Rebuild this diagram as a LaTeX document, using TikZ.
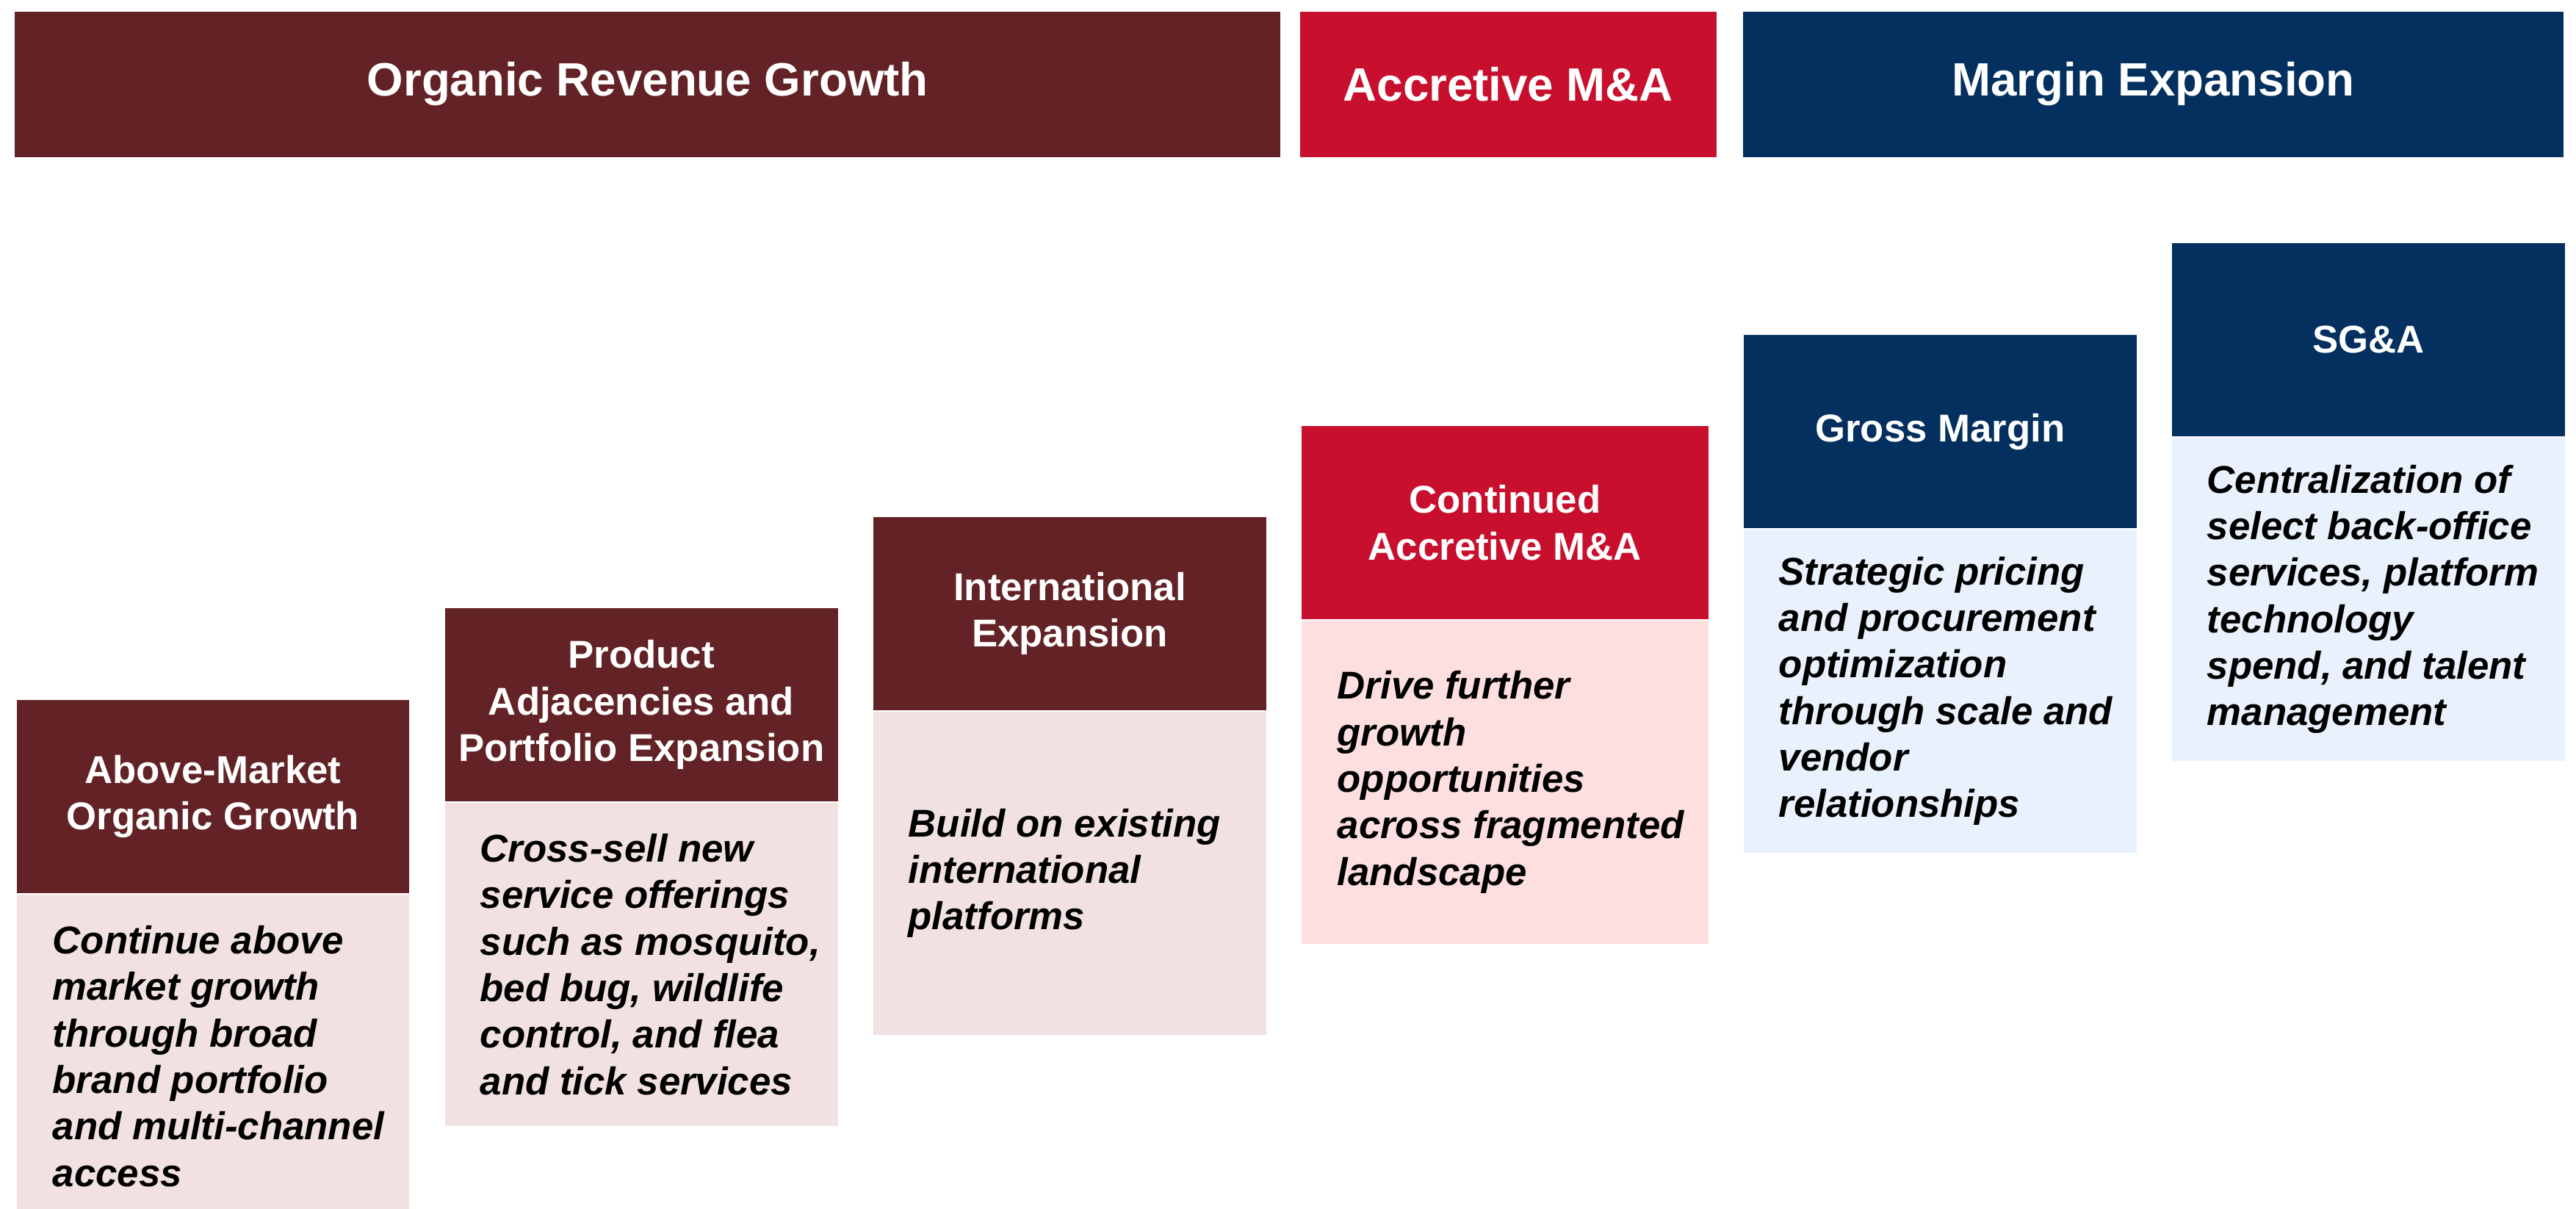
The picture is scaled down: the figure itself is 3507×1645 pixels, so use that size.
\documentclass[tikz,border=0pt]{standalone}
\usepackage{fontspec}
\setmainfont{Liberation Sans}
\definecolor{maroon}{HTML}{632326}
\definecolor{crimson}{HTML}{C8102E}
\definecolor{navy}{HTML}{03305F}
\definecolor{maroonlight}{HTML}{F2E1E1}
\definecolor{crimsonlight}{HTML}{FDDFDF}
\definecolor{navylight}{HTML}{E8F1FC}
\begin{document}
\begin{tikzpicture}[x=0.01cm,y=-0.01cm,
  band/.style={anchor=north west, inner sep=0pt, minimum height=1.977cm,
    text=white, font=\bfseries\fontsize{18.1pt}{22pt}\selectfont},
  hdr/.style={anchor=north west, inner sep=0pt, minimum height=2.635cm,
    text=white, align=center, font=\bfseries\fontsize{15pt}{18pt}\selectfont},
  panel/.style={anchor=north west, inner sep=0pt, minimum height=4.40cm},
  txt/.style={anchor=west, inner sep=0pt, align=left, text=black,
    font=\bfseries\itshape\fontsize{15pt}{18pt}\selectfont}]
\useasboundingbox (0,0) rectangle (3507,1645);

% category bands
\node[band, fill=maroon, minimum width=17.22cm] (bandA) at (19.5,15) {Organic Revenue Growth};
\node[band, fill=crimson, minimum width=5.67cm] (bandB) at (1769,15) {Accretive M\&A};
\node[band, fill=navy, minimum width=11.17cm] (bandC) at (2372,15) {Margin Expansion};

% step 1
\node[hdr, fill=maroon, minimum width=5.34cm] (h1) at (22,952) {Above-Market\\Organic Growth};
\node[panel, fill=maroonlight, minimum width=5.34cm] (b1) at (h1.south west) {};
\node[txt] (t1) at ([xshift=0.49cm]b1.west)
  {Continue above\\market growth\\through broad\\brand portfolio\\and multi-channel\\access};

% step 2
\node[hdr, fill=maroon, minimum width=5.345cm] (h2) at (605,827) {Product\\Adjacencies and\\Portfolio Expansion};
\node[panel, fill=maroonlight, minimum width=5.345cm] (b2) at (h2.south west) {};
\node[txt] (t2) at ([xshift=0.48cm]b2.west)
  {Cross-sell new\\service offerings\\such as mosquito,\\bed bug, wildlife\\control, and flea\\and tick services};

% step 3
\node[hdr, fill=maroon, minimum width=5.35cm] (h3) at (1188,703) {International\\Expansion};
\node[panel, fill=maroonlight, minimum width=5.35cm] (b3) at (h3.south west) {};
\node[txt] (t3) at ([xshift=0.48cm]b3.west)
  {Build on existing\\international\\platforms};

% step 4
\node[hdr, fill=crimson, minimum width=5.54cm] (h4) at (1771,579) {Continued\\Accretive M\&A};
\node[panel, fill=crimsonlight, minimum width=5.54cm] (b4) at (h4.south west) {};
\node[txt] (t4) at ([xshift=0.49cm]b4.west)
  {Drive further\\growth\\opportunities\\across fragmented\\landscape};

% step 5
\node[hdr, fill=navy, minimum width=5.35cm] (h5) at (2373,455) {Gross Margin};
\node[panel, fill=navylight, minimum width=5.35cm] (b5) at (h5.south west) {};
\node[txt] (t5) at ([xshift=0.48cm]b5.west)
  {Strategic pricing\\and procurement\\optimization\\through scale and\\vendor\\relationships};

% step 6
\node[hdr, fill=navy, minimum width=5.35cm] (h6) at (2956,330) {SG\&A};
\node[panel, fill=navylight, minimum width=5.35cm] (b6) at (h6.south west) {};
\node[txt] (t6) at ([xshift=0.48cm]b6.west)
  {Centralization of\\select back-office\\services, platform\\technology\\spend, and talent\\management};
\end{tikzpicture}
\end{document}
